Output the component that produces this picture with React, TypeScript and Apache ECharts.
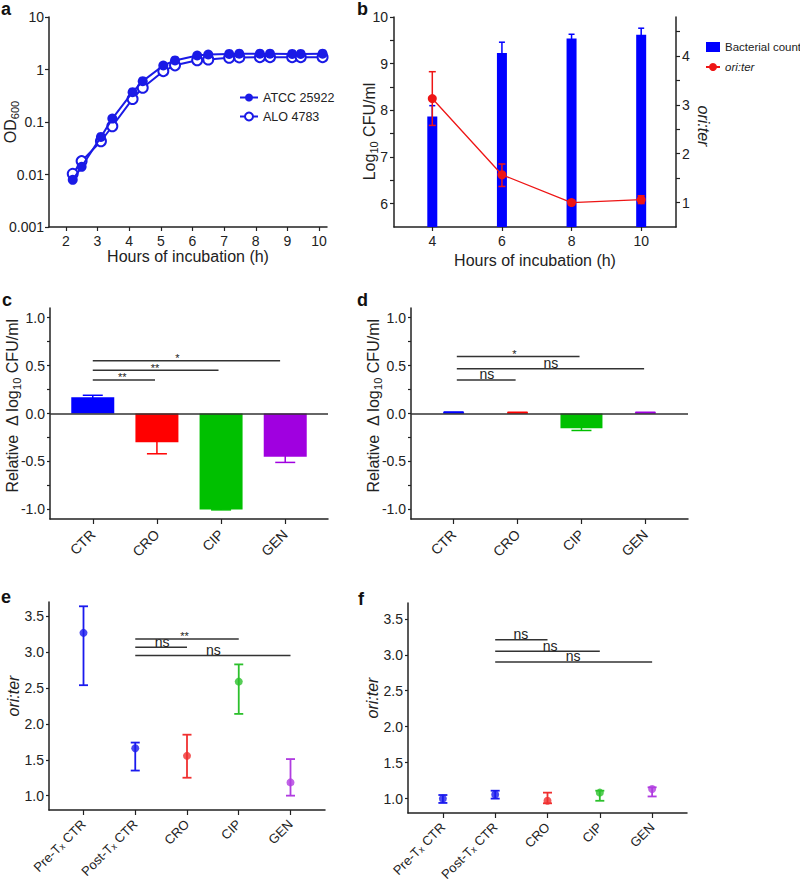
import React, { useEffect, useRef } from 'react';
import * as echarts from 'echarts';

// ---------- data ----------
// panel a: growth curves (OD600)
const hoursA = [2.22, 2.5, 3.11, 3.47, 4.11, 4.43, 5.08, 5.45, 6.15, 6.5, 7.16, 7.48, 8.13, 8.45, 9.15, 9.42, 10.11];
const odATCC = [0.0079, 0.014, 0.052, 0.116, 0.37, 0.6, 1.19, 1.49, 1.85, 1.93, 1.98, 2.0, 2.0, 2.0, 1.98, 1.98, 2.0];
const odALO = [0.0103, 0.018, 0.043, 0.083, 0.275, 0.45, 0.93, 1.2, 1.5, 1.55, 1.67, 1.7, 1.72, 1.72, 1.72, 1.72, 1.72];

// panel b
const hoursB = [4, 6, 8, 10];
const cfuB = [7.87, 9.23, 9.54, 9.62];
const cfuErrB = [0.23, 0.23, 0.09, 0.14];
const oriB = [3.13, 1.57, 1.0, 1.06];
const oriLoB = [2.58, 1.33, 0.95, 0.98];
const oriHiB = [3.68, 1.79, 1.05, 1.14];

// panels c, d
const drugs = ['CTR', 'CRO', 'CIP', 'GEN'];
const drugColors = ['#0000ff', '#ff0000', '#00c000', '#a000e0'];
const deltaC = [0.17, -0.3, -1.0, -0.45];
const errC = [0.02, 0.12, 0.005, 0.06];
const deltaD = [0.012, 0.01, -0.155, 0.01];
const errD = [0.004, 0.003, 0.022, 0.003];

// panels e, f
const groupsEF = ['Pre-Tx CTR', 'Post-Tx CTR', 'CRO', 'CIP', 'GEN'];
const groupColors = ['#1a1aee', '#1a1aee', '#f03030', '#2cc02c', '#b03ce0'];
const oriE = [3.27, 1.66, 1.555, 2.59, 1.185];
const loE = [2.54, 1.35, 1.25, 2.14, 1.0];
const hiE = [3.64, 1.74, 1.85, 2.83, 1.51];
const oriF = [1.0, 1.056, 0.97, 1.083, 1.134];
const loF = [0.94, 1.0, 0.935, 0.97, 1.03];
const hiF = [1.05, 1.11, 1.083, 1.11, 1.157];

// significance brackets: [from, to, height, textX, label]
const sigC: [number, number, number, number, string][] = [
  [0, 0.97, 0.35, 0.46, '**'],
  [0, 1.96, 0.45, 0.97, '**'],
  [0, 2.92, 0.55, 1.32, '*'],
];
const sigD: [number, number, number, number, string][] = [
  [0.05, 0.97, 0.35, 0.52, 'ns'],
  [0.05, 2.98, 0.467, 1.52, 'ns'],
  [0.05, 1.97, 0.595, 0.95, '*'],
];
const sigE: [number, number, number, number, string][] = [
  [1, 2, 3.07, 1.52, 'ns'],
  [1, 3, 3.185, 1.95, '**'],
  [1, 4, 2.955, 2.51, 'ns'],
];
const sigF: [number, number, number, number, string][] = [
  [1, 2, 3.21, 1.49, 'ns'],
  [1, 3, 3.05, 2.05, 'ns'],
  [1, 4, 2.9, 2.49, 'ns'],
];

const FONT = 'Liberation Sans, Arial, sans-serif';
const INK = '#222';

function errRender(cap: number, lw: number) {
  return (params: any, api: any) => {
    const x = api.value(0);
    const a = api.coord([x, api.value(1)]);
    const b = api.coord([x, api.value(2)]);
    const style = { stroke: api.visual('color'), lineWidth: lw };
    const h = cap / 2;
    return {
      type: 'group',
      children: [
        { type: 'line', shape: { x1: a[0], y1: a[1], x2: b[0], y2: b[1] }, style },
        { type: 'line', shape: { x1: b[0] - h, y1: b[1], x2: b[0] + h, y2: b[1] }, style },
        { type: 'line', shape: { x1: a[0] - h, y1: a[1], x2: a[0] + h, y2: a[1] }, style },
      ],
    };
  };
}

function sigSeries(sig: [number, number, number, number, string][], xi: number, yi: number) {
  return {
    type: 'custom', name: 'sig' + xi, xAxisIndex: xi, yAxisIndex: yi, silent: true, z: 5,
    encode: { x: [0, 1, 3], y: 2 },
    data: sig.map((s) => [s[0], s[1], s[2], s[3]]),
    renderItem: (params: any, api: any) => {
      const p1 = api.coord([api.value(0), api.value(2)]);
      const p2 = api.coord([api.value(1), api.value(2)]);
      const pt = api.coord([api.value(3), api.value(2)]);
      const label = sig[params.dataIndex][4];
      const isNs = label === 'ns';
      return {
        type: 'group',
        children: [
          { type: 'line', shape: { x1: p1[0], y1: p1[1], x2: p2[0], y2: p2[1] }, style: { stroke: '#333', lineWidth: 1.5 } },
          {
            type: 'text', x: pt[0], y: pt[1] + (isNs ? 1.5 : 3),
            style: { text: label, fontSize: isNs ? 14 : 11, fontFamily: FONT, fill: INK, align: 'center', verticalAlign: 'bottom' },
          },
        ],
      };
    },
  };
}

const catRich = {
  a: { fontSize: 13, fontFamily: FONT, color: INK },
  s: { fontSize: 9, lineHeight: 6, verticalAlign: 'bottom', fontFamily: FONT, color: INK },
};
const catText = (name: string) => {
  if (!name) return '';
  if (name.indexOf('-Tx') >= 0) {
    const parts = name.split('-Tx');
    return '{a|' + parts[0] + '-T}{s|x}{a|' + parts[1] + '}';
  }
  return '{a|' + name + '}';
};
// label slots every 1/3 of a category step, so that names fall on 0, 1, 2 ... of the value axes
const labelSlots = (names: string[]) => {
  const out: string[] = [];
  const n = (names.length - 1) * 3 + 5;
  for (let k = 0; k < n; k++) out.push('');
  names.forEach((nm, i) => { out[2 + 3 * i] = nm; });
  return out;
};

const axisLine = { show: true, onZero: false, lineStyle: { color: INK, width: 1.5 } };
const tick = (len: number, values?: number[]) => ({
  show: true, length: len, lineStyle: { color: INK, width: 1.2 },
  ...(values ? { customValues: values } : {}),
});
const subRich = {
  a: { fontSize: 16, lineHeight: 20, fontFamily: FONT, color: INK },
  s: { fontSize: 11, lineHeight: 6, verticalAlign: 'bottom', fontFamily: FONT, color: INK },
  i: { fontSize: 16, lineHeight: 20, fontFamily: FONT, color: INK, fontStyle: 'italic' },
};

export default function App() {
  const ref = useRef<HTMLDivElement>(null);
  useEffect(() => {
    if (!ref.current) return;
    const chart = echarts.init(ref.current, undefined, { renderer: 'svg' });

    const tickLbl = { color: INK, fontSize: 14, fontFamily: FONT };
    const noSplit = { show: false };
    const titleStyle = { fontSize: 16, color: INK, fontFamily: FONT };
    const padCD = 2 / 3;
    const padEF = 2 / 3;

    const labelAxis = (gridIndex: number, names: string[], margin: number, rich: boolean) => ({
      type: 'category', gridIndex, position: 'bottom', offset: 0, boundaryGap: false,
      data: labelSlots(names),
      axisLine: { show: false }, axisTick: { show: false }, splitLine: noSplit,
      axisLabel: rich
        ? { rotate: 45, interval: 0, margin, formatter: (v: string) => catText(v), rich: catRich, color: INK, fontSize: 13, fontFamily: FONT }
        : { rotate: 45, interval: 0, margin, color: INK, fontSize: 14, fontFamily: FONT },
    });

    const xAxis: any[] = [
      // 0: a
      {
        type: 'value', gridIndex: 0, min: 1.47, max: 10.25,
        axisLine, axisTick: tick(4, [2, 3, 4, 5, 6, 7, 8, 9, 10]),
        axisLabel: { ...tickLbl, margin: 7, customValues: [2, 3, 4, 5, 6, 7, 8, 9, 10] },
        splitLine: noSplit,
        name: 'Hours of incubation (h)', nameLocation: 'middle', nameGap: 21, nameMoveOverlap: false,
        nameTextStyle: titleStyle,
      },
      // 1: b
      {
        type: 'value', gridIndex: 1, min: 2.9, max: 11,
        axisLine, axisTick: tick(4, [4, 6, 8, 10]),
        axisLabel: { ...tickLbl, margin: 7, customValues: [4, 6, 8, 10] },
        splitLine: noSplit,
        name: 'Hours of incubation (h)', nameLocation: 'middle', nameGap: 25, nameMoveOverlap: false,
        nameTextStyle: titleStyle,
      },
      // 2-5: c, d, e, f value axes (geometry + ticks)
      { type: 'value', gridIndex: 2, position: 'bottom', min: -padCD, max: 3 + padCD, axisLine, axisTick: tick(5, [0, 1, 2, 3]), axisLabel: { show: false }, splitLine: noSplit },
      { type: 'value', gridIndex: 3, position: 'bottom', min: -padCD, max: 3 + padCD, axisLine, axisTick: tick(5, [0, 1, 2, 3]), axisLabel: { show: false }, splitLine: noSplit },
      { type: 'value', gridIndex: 4, position: 'bottom', min: -padEF, max: 4 + padEF, axisLine, axisTick: tick(5, [0, 1, 2, 3, 4]), axisLabel: { show: false }, splitLine: noSplit },
      { type: 'value', gridIndex: 5, position: 'bottom', min: -padEF, max: 4 + padEF, axisLine, axisTick: tick(5, [0, 1, 2, 3, 4]), axisLabel: { show: false }, splitLine: noSplit },
      // 6: overlay axis for the wide bar of panel d
      { type: 'value', gridIndex: 3, position: 'bottom', min: -padCD, max: 3 + padCD, show: false, splitLine: noSplit },
      // 7-10: category label axes (rotated names)
      labelAxis(2, drugs, 13, false),
      labelAxis(3, drugs, 13, false),
      labelAxis(4, groupsEF, 12, true),
      labelAxis(5, groupsEF, 12, true),
    ];

    const yAxis: any[] = [
      {
        type: 'log', logBase: 10, gridIndex: 0, min: 0.001, max: 10,
        axisLine, axisTick: tick(4), minorTick: { show: false },
        axisLabel: { ...tickLbl, margin: 5, formatter: (v: number) => (v < 1 ? v.toPrecision(1) : String(Math.round(v))) },
        splitLine: noSplit,
        name: '{a|OD}{s|600}', nameLocation: 'middle', nameGap: 29, nameMoveOverlap: false,
        nameTextStyle: { rich: subRich },
      },
      {
        type: 'value', gridIndex: 1, min: 5.5, max: 10,
        axisLine, axisTick: tick(4, [6, 6.5, 7, 7.5, 8, 8.5, 9, 9.5, 10]),
        axisLabel: { ...tickLbl, margin: 6, customValues: [6, 7, 8, 9, 10] },
        splitLine: noSplit,
        name: '{a|Log}{s|10}{a| CFU/ml}', nameLocation: 'middle', nameGap: 15, nameMoveOverlap: false,
        nameTextStyle: { rich: subRich, padding: [0, 19, 0, 0] },
      },
      {
        type: 'value', gridIndex: 1, position: 'right', min: 0.5, max: 4.8,
        axisLine, axisTick: tick(4, [1, 1.5, 2, 2.5, 3, 3.5, 4, 4.5]),
        axisLabel: { ...tickLbl, margin: 6, customValues: [1, 2, 3, 4] },
        splitLine: noSplit,
        name: '{i|ori:ter}', nameLocation: 'middle', nameGap: 17, nameRotate: -90, nameMoveOverlap: false,
        nameTextStyle: { rich: subRich, padding: [0, 0, 0, 8] },
      },
      {
        type: 'value', gridIndex: 2, min: -1.1, max: 1.1,
        axisLine, axisTick: tick(3, [-1, -0.75, -0.5, -0.25, 0, 0.25, 0.5, 0.75, 1]),
        axisLabel: { ...tickLbl, margin: 5, customValues: [-1, -0.5, 0, 0.5, 1], formatter: (v: number) => v.toFixed(1) },
        splitLine: noSplit,
        name: '{a|Relative  Δ log}{s|10}{a| CFU/ml}', nameLocation: 'middle', nameGap: 28, nameMoveOverlap: false,
        nameTextStyle: { rich: subRich, padding: [0, 0, 0, 15] },
      },
      {
        type: 'value', gridIndex: 3, min: -1.1, max: 1.1,
        axisLine, axisTick: tick(3, [-1, -0.75, -0.5, -0.25, 0, 0.25, 0.5, 0.75, 1]),
        axisLabel: { ...tickLbl, margin: 5, customValues: [-1, -0.5, 0, 0.5, 1], formatter: (v: number) => v.toFixed(1) },
        splitLine: noSplit,
        name: '{a|Relative  Δ log}{s|10}{a| CFU/ml}', nameLocation: 'middle', nameGap: 28, nameMoveOverlap: false,
        nameTextStyle: { rich: subRich, padding: [0, 0, 0, 15] },
      },
      {
        type: 'value', gridIndex: 4, min: 0.8, max: 3.7,
        axisLine, axisTick: tick(3, [1, 1.5, 2, 2.5, 3, 3.5]),
        axisLabel: { ...tickLbl, margin: 5, customValues: [1, 1.5, 2, 2.5, 3, 3.5], formatter: (v: number) => v.toFixed(1) },
        splitLine: noSplit,
        name: '{i|ori:ter}', nameLocation: 'middle', nameGap: 26, nameMoveOverlap: false,
        nameTextStyle: { rich: subRich, padding: [0, 0, 0, 20] },
      },
      {
        type: 'value', gridIndex: 5, min: 0.8, max: 3.72,
        axisLine, axisTick: tick(3, [1, 1.5, 2, 2.5, 3, 3.5]),
        axisLabel: { ...tickLbl, margin: 5, customValues: [1, 1.5, 2, 2.5, 3, 3.5], formatter: (v: number) => v.toFixed(1) },
        splitLine: noSplit,
        name: '{i|ori:ter}', nameLocation: 'middle', nameGap: 26, nameMoveOverlap: false,
        nameTextStyle: { rich: subRich, padding: [0, 0, 0, 20] },
      },
    ];

    const zeroLine = {
      silent: true, symbol: 'none', label: { show: false },
      lineStyle: { color: '#333', width: 1.5, type: 'solid' },
      data: [{ yAxis: 0 }],
    };

    const dNarrow = drugs.map((d, i) => i).filter((i) => drugs[i] !== 'CIP');
    const dWide = drugs.map((d, i) => i).filter((i) => drugs[i] === 'CIP');

    const series: any[] = [
      // ---- a ----
      {
        type: 'line', name: 'ATCC 25922', xAxisIndex: 0, yAxisIndex: 0,
        data: hoursA.map((h, i) => [h, odATCC[i]]),
        symbol: 'circle', symbolSize: 10, color: '#1a1ae6', lineStyle: { width: 2, color: '#1a1ae6' }, z: 3,
      },
      {
        type: 'line', name: 'ALO 4783', xAxisIndex: 0, yAxisIndex: 0,
        data: hoursA.map((h, i) => [h, odALO[i]]),
        symbol: 'emptyCircle', symbolSize: 10, color: '#1a1ae6',
        itemStyle: { borderWidth: 1.5, color: '#1a1ae6' }, lineStyle: { width: 2, color: '#1a1ae6' }, z: 2,
      },
      // ---- b ----
      {
        type: 'bar', name: 'Bacterial count', xAxisIndex: 1, yAxisIndex: 1,
        data: hoursB.map((h, i) => [h, cfuB[i]]), barWidth: 10, color: '#0000ff',
      },
      {
        type: 'custom', name: 'errB1', xAxisIndex: 1, yAxisIndex: 1, z: 3, silent: true,
        encode: { x: 0, y: [1, 2] }, color: '#0000ff',
        data: hoursB.map((h, i) => [h, cfuB[i] - cfuErrB[i], cfuB[i] + cfuErrB[i]]),
        renderItem: errRender(6, 1.5),
      },
      {
        type: 'line', name: 'ori:ter', xAxisIndex: 1, yAxisIndex: 2,
        data: hoursB.map((h, i) => [h, oriB[i]]), symbol: 'circle', symbolSize: 9,
        color: '#ee1515', lineStyle: { width: 1.3, color: '#ee1515' }, z: 4,
      },
      {
        type: 'custom', name: 'errB2', xAxisIndex: 1, yAxisIndex: 2, z: 4, silent: true,
        encode: { x: 0, y: [1, 2] }, color: '#ee1515',
        data: hoursB.map((h, i) => [h, oriLoB[i], oriHiB[i]]),
        renderItem: errRender(7, 1.5),
      },
      // ---- c ----
      {
        type: 'bar', name: 'barsC', xAxisIndex: 2, yAxisIndex: 3, barWidth: 43, z: 2,
        data: drugs.map((d, i) => ({ value: [i, deltaC[i]], itemStyle: { color: drugColors[i] } })),
        markLine: zeroLine,
      },
      {
        type: 'custom', name: 'errC', xAxisIndex: 2, yAxisIndex: 3, z: 1, silent: true,
        encode: { x: 0, y: [1, 2] },
        data: drugs.map((d, i) => ({ value: [i, deltaC[i] - errC[i], deltaC[i] + errC[i]], itemStyle: { color: drugColors[i] } })),
        renderItem: errRender(20, 1.5),
      },
      sigSeries(sigC, 2, 3),
      // ---- d ----
      {
        type: 'bar', name: 'barsD1', xAxisIndex: 3, yAxisIndex: 4, barWidth: 21, z: 2,
        data: dNarrow.map((i) => ({ value: [i, deltaD[i]], itemStyle: { color: drugColors[i] } })),
        markLine: zeroLine,
      },
      {
        type: 'bar', name: 'barsD2', xAxisIndex: 6, yAxisIndex: 4, barWidth: 42, z: 2,
        data: dWide.map((i) => ({ value: [i, deltaD[i]], itemStyle: { color: drugColors[i] } })),
      },
      {
        type: 'custom', name: 'errD', xAxisIndex: 3, yAxisIndex: 4, z: 1, silent: true,
        encode: { x: 0, y: [1, 2] },
        data: drugs.map((d, i) => ({ value: [i, deltaD[i] - errD[i], deltaD[i] + errD[i]], itemStyle: { color: drugColors[i] } })),
        renderItem: errRender(20, 1.5),
      },
      sigSeries(sigD, 3, 4),
      // ---- e ----
      {
        type: 'custom', name: 'errE', xAxisIndex: 4, yAxisIndex: 5, z: 2, silent: true,
        encode: { x: 0, y: [1, 2] },
        data: groupsEF.map((g, i) => ({ value: [i, loE[i], hiE[i]], itemStyle: { color: groupColors[i] } })),
        renderItem: errRender(9, 1.8),
      },
      {
        type: 'scatter', name: 'ptsE', xAxisIndex: 4, yAxisIndex: 5, symbolSize: 8, z: 3,
        data: groupsEF.map((g, i) => ({ value: [i, oriE[i]], itemStyle: { color: groupColors[i] } })),
      },
      sigSeries(sigE, 4, 5),
      // ---- f ----
      {
        type: 'custom', name: 'errF', xAxisIndex: 5, yAxisIndex: 6, z: 2, silent: true,
        encode: { x: 0, y: [1, 2] },
        data: groupsEF.map((g, i) => ({ value: [i, loF[i], hiF[i]], itemStyle: { color: groupColors[i] } })),
        renderItem: errRender(9, 1.8),
      },
      {
        type: 'scatter', name: 'ptsF', xAxisIndex: 5, yAxisIndex: 6, symbolSize: 8, z: 3,
        data: groupsEF.map((g, i) => ({ value: [i, oriF[i]], itemStyle: { color: groupColors[i] } })),
      },
      sigSeries(sigF, 5, 6),
    ];

    const letter = (t: string, x: number, y: number) => ({
      type: 'text', left: x, top: y,
      style: { text: t, fontSize: 18, fontWeight: 'bold', fontFamily: FONT, fill: '#111' },
    });

    chart.setOption({
      animation: false,
      backgroundColor: '#ffffff',
      grid: [
        { left: 49, top: 17, width: 278, height: 210 },
        { left: 394, top: 17, width: 282, height: 210 },
        { left: 50, top: 308, width: 278, height: 211 },
        { left: 411, top: 308, width: 277, height: 211 },
        { left: 49, top: 602, width: 276, height: 208 },
        { left: 408, top: 603, width: 279, height: 210 },
      ],
      legend: [
        {
          data: ['ATCC 25922', 'ALO 4783'], orient: 'vertical', left: 234, top: 86,
          itemWidth: 18, itemHeight: 10, itemGap: 6, selectedMode: false,
          textStyle: { fontSize: 12.5, color: INK, fontFamily: FONT },
        },
        {
          data: [
            { name: 'Bacterial count', icon: 'rect' },
            { name: 'ori:ter', textStyle: { fontStyle: 'italic' } },
          ],
          orient: 'vertical', left: 700, top: 36,
          itemWidth: 14, itemHeight: 10, itemGap: 8, selectedMode: false,
          textStyle: { fontSize: 11.5, color: INK, fontFamily: FONT },
        },
      ],
      xAxis,
      yAxis,
      series,
      graphic: [
        letter('a', 1, 0),
        letter('b', 357, 0),
        letter('c', 2, 291),
        letter('d', 357, 291),
        letter('e', 1, 588),
        letter('f', 358, 590),
      ],
    });
    return () => chart.dispose();
  }, []);
  return <div ref={ref} style={{ position: 'fixed', left: 0, top: 0, width: 800, height: 893, background: '#fff' }} />;
}
